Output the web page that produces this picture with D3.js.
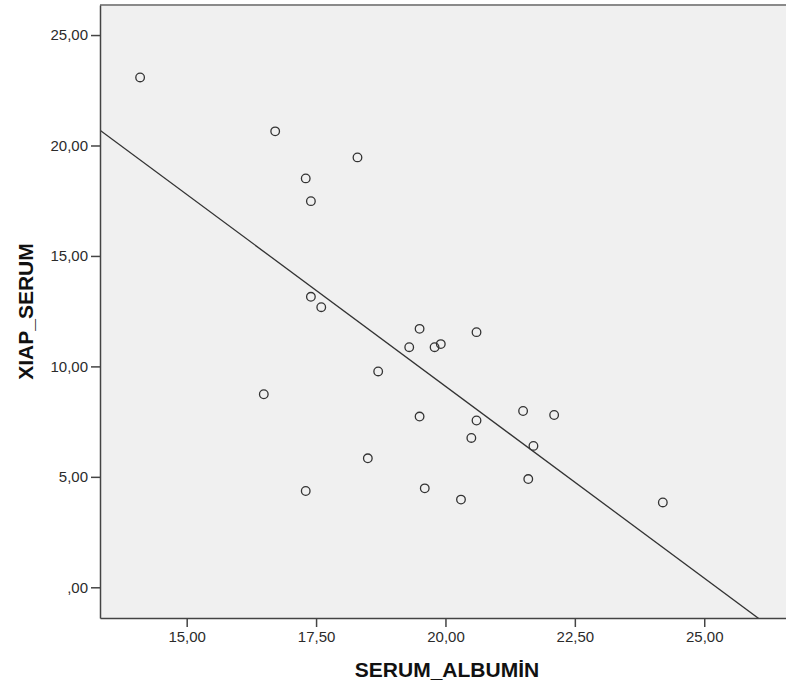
<!DOCTYPE html>
<html>
<head>
<meta charset="utf-8">
<script src="https://cdn.jsdelivr.net/npm/d3@7"></script>
<style>
  body { margin: 0; background: #fff; }
  svg { display: block; overflow: visible; }
  .tick text { font-family: Arial, "Liberation Sans", sans-serif; font-size: 15px; fill: #2b2b2b; }
  .title { font-family: Arial, "Liberation Sans", sans-serif; font-size: 21px; font-weight: bold; fill: #111; }
</style>
</head>
<body>
<svg width="786" height="686"></svg>
<script>
// SERUM_ALBUMİN (x) tegen XIAP_SERUM (y)
const albumin = [
  14.10, 16.71, 18.30, 17.30, 17.40, 17.40, 17.60, 19.50, 20.60, 19.30,
  19.79, 19.91, 18.70, 16.49, 19.50, 20.60, 21.50, 22.10, 20.50, 21.70,
  18.50, 21.60, 17.30, 19.60, 20.30, 24.20
];
const xiap = [
  23.08, 20.64, 19.46, 18.51, 17.48, 13.15, 12.68, 11.70, 11.55, 10.87,
  10.87, 11.01, 9.77, 8.74, 7.73, 7.55, 7.98, 7.80, 6.76, 6.40,
  5.84, 4.90, 4.36, 4.48, 3.97, 3.84
];

// lineaire fit lijn (y = a + b*x)
const fitIntercept = 43.84;
const fitSlope = -1.737;

const xTicks = [15, 17.5, 20, 22.5, 25];
const yTicks = [0, 5, 10, 15, 20, 25];

const xLabel = 'SERUM_ALBUMİN';
const yLabel = 'XIAP_SERUM';

const svg = d3.select('svg');
const margin = { top: 5, right: 0, bottom: 68, left: 100 };
const width = +svg.attr('width');
const height = +svg.attr('height');
const innerWidth = width - margin.left - margin.right;
const innerHeight = height - margin.top - margin.bottom;

const xScale = d3.scaleLinear()
  .domain([13.325, 26.58])
  .range([0, innerWidth]);

const yScale = d3.scaleLinear()
  .domain([-1.39, 26.36])
  .range([innerHeight, 0]);

const fmt = d => d3.format('.2f')(d).replace('.', ',').replace(/^0,/, ',');

const g = svg.append('g')
  .attr('transform', `translate(${margin.left}, ${margin.top})`);

// achtergrond
g.append('rect')
  .attr('width', innerWidth)
  .attr('height', innerHeight)
  .attr('fill', '#f0f0f0');

// bovenrand
g.append('line')
  .attr('x1', 0).attr('x2', innerWidth)
  .attr('y1', 0).attr('y2', 0)
  .attr('stroke', '#8a8a8a')
  .attr('stroke-width', 2);

// clip voor de lijn
svg.append('clipPath').attr('id', 'plot')
  .append('rect')
    .attr('width', innerWidth)
    .attr('height', innerHeight);

const fitX = xScale.domain();
g.append('line')
  .attr('clip-path', 'url(#plot)')
  .attr('x1', xScale(fitX[0]))
  .attr('y1', yScale(fitIntercept + fitSlope * fitX[0]))
  .attr('x2', xScale(fitX[1]))
  .attr('y2', yScale(fitIntercept + fitSlope * fitX[1]))
  .attr('stroke', '#333')
  .attr('stroke-width', 1.3);

g.selectAll('circle.pt').data(albumin)
  .enter().append('circle')
    .attr('class', 'pt')
    .attr('cx', d => xScale(d))
    .attr('cy', (d, i) => yScale(xiap[i]))
    .attr('r', 4.3)
    .attr('fill', 'none')
    .attr('stroke', '#333')
    .attr('stroke-width', 1.3);

// y-as
const yAxis = g.append('g')
  .call(d3.axisLeft(yScale).tickValues(yTicks).tickFormat(fmt)
    .tickSizeInner(9).tickSizeOuter(0).tickPadding(3));
yAxis.select('.domain').attr('stroke', '#444').attr('stroke-width', 1.5);
yAxis.selectAll('.tick line').attr('stroke', '#444').attr('stroke-width', 1.5);

// x-as
const xAxis = g.append('g')
  .attr('transform', `translate(0, ${innerHeight})`)
  .call(d3.axisBottom(xScale).tickValues(xTicks).tickFormat(fmt)
    .tickSizeInner(9).tickSizeOuter(0).tickPadding(4));
xAxis.select('.domain').attr('stroke', '#444').attr('stroke-width', 1.5);
xAxis.selectAll('.tick line').attr('stroke', '#444').attr('stroke-width', 1.5);

svg.append('text')
  .attr('class', 'title')
  .attr('x', margin.left + innerWidth / 2 + 4)
  .attr('y', 677)
  .attr('text-anchor', 'middle')
  .text(xLabel);

svg.append('text')
  .attr('class', 'title')
  .attr('transform', `translate(33, ${margin.top + innerHeight / 2}) rotate(-90)`)
  .attr('text-anchor', 'middle')
  .text(yLabel);
</script>
</body>
</html>
